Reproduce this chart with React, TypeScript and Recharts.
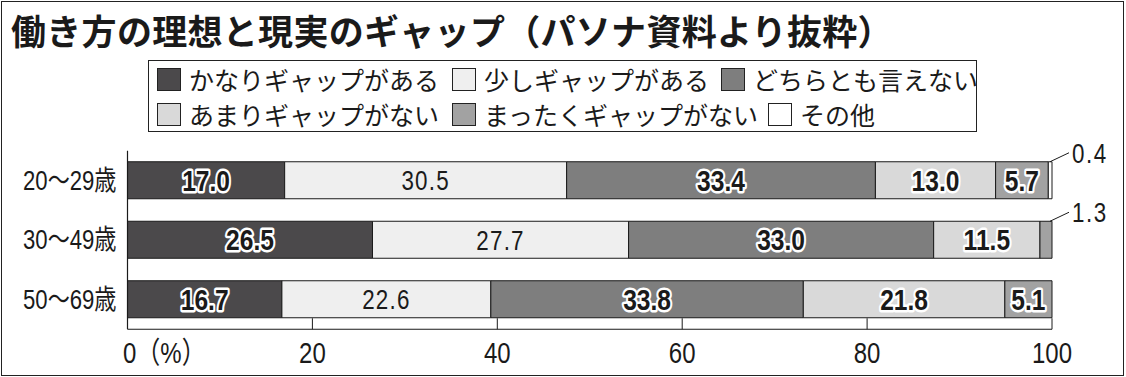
import { Bar, BarChart, LabelList, XAxis, YAxis } from 'recharts'

const categories = ['20～29歳', '30～49歳', '50～69歳']
const kanari = [17.0, 26.5, 16.7]
const sukoshi = [30.5, 27.7, 22.6]
const dochira = [33.4, 33.0, 33.8]
const amari = [13.0, 11.5, 21.8]
const mattaku = [5.7, 1.3, 5.1]
const sonota = [0.4, 0, 0]
const xTicks = [0, 20, 40, 60, 80, 100]

const LATIN = "'Liberation Sans', Arial, 'Noto Sans CJK JP', sans-serif"
const GOTHIC = "'Noto Sans CJK JP', sans-serif"
const INK = '#1a1a1a'

const series = [
  { key: 'kanari', name: 'かなりギャップがある', color: '#4b494b', plain: false },
  { key: 'sukoshi', name: '少しギャップがある', color: '#efefef', plain: true },
  { key: 'dochira', name: 'どちらとも言えない', color: '#7e7e7e', plain: false },
  { key: 'amari', name: 'あまりギャップがない', color: '#d9d9d9', plain: false },
  { key: 'mattaku', name: 'まったくギャップがない', color: '#a2a2a2', plain: false },
  { key: 'sonota', name: 'その他', color: '#ffffff', plain: false },
]

const data = categories.map((name, i) => ({
  name,
  kanari: kanari[i],
  sukoshi: sukoshi[i],
  dochira: dochira[i],
  amari: amari[i],
  mattaku: mattaku[i],
  sonota: sonota[i],
}))

// legend swatch positions (left, top) in row-major order
const legendPos = [
  [157, 68], [452, 68], [721, 68],
  [157, 103], [452, 103], [768, 103],
]

// condensed text: the source uses a narrow face, so squeeze horizontally
function NarrowText({ x, y, sx = 0.8, children, ...rest }: any) {
  return (
    <text transform={`translate(${x} ${y}) scale(${sx} 1)`} x={0} y={0} dominantBaseline='central'
      fontFamily={LATIN} fill={INK} {...rest}>{children}</text>
  )
}

function makeLabel(plain: boolean) {
  return (props: any) => {
    const { x, y, width, height, value } = props
    if (!value) return null
    const text = Number(value).toFixed(1)
    if (value < 3) {
      // small slice: value outside with leader line
      const sx = x + width - 2
      const ex = x + width + 17
      const ey = y - 9
      return (
        <g>
          <line x1={sx} y1={y} x2={ex} y2={ey} stroke={INK} strokeWidth={1} />
          <NarrowText x={ex + 3} y={ey} fontSize={28} letterSpacing={2}>{text}</NarrowText>
        </g>
      )
    }
    const cx = x + width / 2
    const cy = y + height / 2
    if (plain) {
      return <NarrowText x={cx} y={cy} textAnchor='middle' fontSize={28} letterSpacing={1.5}>{text}</NarrowText>
    }
    return (
      <NarrowText x={cx} y={cy} sx={0.82} textAnchor='middle' fontSize={30} fontWeight='bold' stroke='#fff'
        strokeWidth={5} strokeLinejoin='round' paintOrder='stroke'>{text}</NarrowText>
    )
  }
}

function XTick({ x, y, payload }: any) {
  const v = payload.value
  const ty = y + 23
  return (
    <g>
      {v > 0 && <line x1={x} x2={x} y1={y} y2={y - 11} stroke={INK} strokeWidth={1} />}
      {v === 0 ? (
        <NarrowText x={x - 4.5} y={ty} textAnchor='start' fontSize={30}>0（%）</NarrowText>
      ) : (
        <NarrowText x={x} y={ty} textAnchor='middle' fontSize={30}>{v}</NarrowText>
      )}
    </g>
  )
}

function YTick({ x, y, payload }: any) {
  return <NarrowText x={x} y={y} sx={0.82} textAnchor='end' fontSize={27}>{payload.value}</NarrowText>
}

export default function App() {
  return (
    <div style={{ position: 'absolute', left: 0, top: 0, width: 1126, height: 377, background: '#fff' }}>
      <BarChart width={1126} height={377} data={data} layout='vertical'
        margin={{ top: 150.75, right: 74, bottom: 7.75, left: 7.5 }}>
        <XAxis type='number' domain={[0, 100]} ticks={xTicks} interval={0} height={40}
          axisLine={{ stroke: INK, strokeWidth: 1.2 }} tickLine={false} tickSize={0} tickMargin={0}
          tick={<XTick />} />
        <YAxis type='category' dataKey='name' width={120} axisLine={{ stroke: INK, strokeWidth: 1.2 }}
          tickLine={false} tickSize={0} tickMargin={11} tick={<YTick />} />
        {series.map((s) => (
          <Bar key={s.key} dataKey={s.key} name={s.name} stackId='a' fill={s.color} stroke={INK}
            strokeWidth={1} barSize={37} isAnimationActive={false}>
            <LabelList dataKey={s.key} content={makeLabel(s.plain)} />
          </Bar>
        ))}
      </BarChart>

      <div style={{ position: 'absolute', left: 1, top: 1, width: 1123, height: 375, boxSizing: 'border-box',
        border: '1.5px solid #222', pointerEvents: 'none' }} />

      <div style={{ position: 'absolute', left: 11, top: 10, fontFamily: GOTHIC, fontWeight: 'bold',
        fontSize: 35, lineHeight: '40px', letterSpacing: 0.3, color: INK, whiteSpace: 'nowrap' }}>
        働き方の理想と現実のギャップ（パソナ資料より抜粋）
      </div>

      <div style={{ position: 'absolute', left: 148, top: 60, width: 829, height: 72, boxSizing: 'border-box',
        border: '1.5px solid #222' }} />
      {series.map((s, i) => (
        <div key={s.key} style={{ position: 'absolute', left: legendPos[i][0], top: legendPos[i][1],
          display: 'flex', alignItems: 'center', height: 23, whiteSpace: 'nowrap' }}>
          <div style={{ width: 24, height: 23, boxSizing: 'border-box', background: s.color,
            border: '1px solid #222' }} />
          <span style={{ marginLeft: 8, fontFamily: GOTHIC, fontSize: 25, lineHeight: '23px', color: INK }}>
            {s.name}
          </span>
        </div>
      ))}
    </div>
  )
}
